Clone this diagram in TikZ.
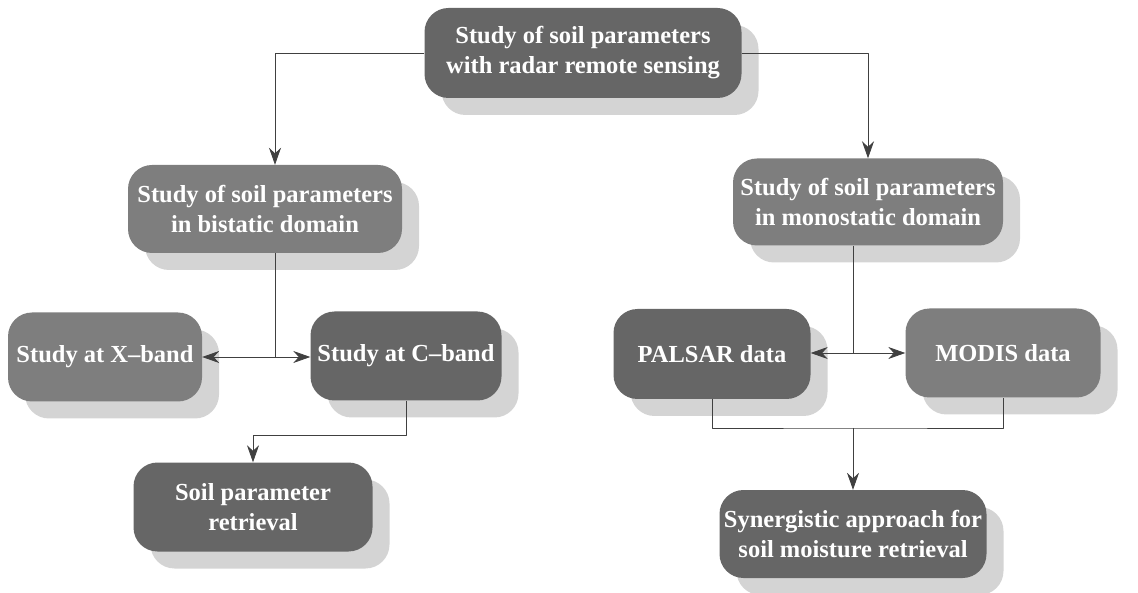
\documentclass[tikz,border=0pt]{standalone}
\usepackage{fontspec}
\setmainfont{Liberation Serif}
\usetikzlibrary{shadows,arrows.meta}
\definecolor{boxdark}{RGB}{102,102,102}
\definecolor{boxlight}{RGB}{126,126,126}
\definecolor{shade}{RGB}{212,212,212}
\begin{document}
\begin{tikzpicture}[x=1pt, y=-1pt, font=\fontsize{24.5}{30}\selectfont\bfseries, line join=round, >={Stealth[length=17pt,width=12pt]},
    box/.style={rounded corners=24pt, fill=boxdark, text=white, align=center, inner sep=0pt,
        drop shadow={shadow xshift=17pt, shadow yshift=-17pt, fill=shade, opacity=1}},
    link/.style={draw=black!75, line width=0.8pt}]
    \useasboundingbox (0,0) rectangle (1138,593);
    % boxes
    \node[box, minimum width=317pt, minimum height=90pt] (radar) at (583,53) {Study of soil parameters\\with radar remote sensing};
    \node[box, fill=boxlight, minimum width=274pt, minimum height=88pt] (bistatic) at (265,209) {Study of soil parameters\\in bistatic domain};
    \node[box, fill=boxlight, minimum width=270pt, minimum height=87pt] (mono) at (868,202) {Study of soil parameters\\in monostatic domain};
    \node[box, fill=boxlight, minimum width=194pt, minimum height=89pt] (xband) at (105,357) {Study at X--band};
    \node[box, minimum width=191pt, minimum height=89pt] (cband) at (406,356) {Study at C--band};
    \node[box, minimum width=239pt, minimum height=89pt] (retrieval) at (253,507) {Soil parameter\\retrieval};
    \node[box, minimum width=197pt, minimum height=90pt] (palsar) at (712,354) {PALSAR data};
    \node[box, fill=boxlight, minimum width=195pt, minimum height=89pt] (modis) at (1003,353) {MODIS data};
    \node[box, minimum width=267pt, minimum height=88pt] (synergy) at (853,534) {Synergistic approach for\\soil moisture retrieval};
    % links
    \coordinate (bsplit) at (275,357);
    \coordinate (msplit) at (853,353);
    \coordinate (mjoin) at (853,428);
    \draw[link,->] (radar.west) -| ([xshift=10pt]bistatic.north);
    \draw[link,->] (radar.east) -| (mono.north);
    \draw[link] ([xshift=10pt]bistatic.south) -- (bsplit);
    \draw[link,->] (bsplit) -- (bsplit -| xband.east);
    \draw[link,->] (bsplit) -- (bsplit -| cband.west);
    \draw[link,->] (cband.south) -- ++(0,35) -| (retrieval.north);
    \draw[link] (mono.south -| msplit) -- (msplit);
    \draw[link,->] (msplit) -- (msplit -| palsar.east);
    \draw[link,->] (msplit) -- (msplit -| modis.west);
    \draw[link] (palsar.south) |- (mjoin) -| (modis.south);
    \draw[link,->] (mjoin) -- (synergy.north);
\end{tikzpicture}
\end{document}
